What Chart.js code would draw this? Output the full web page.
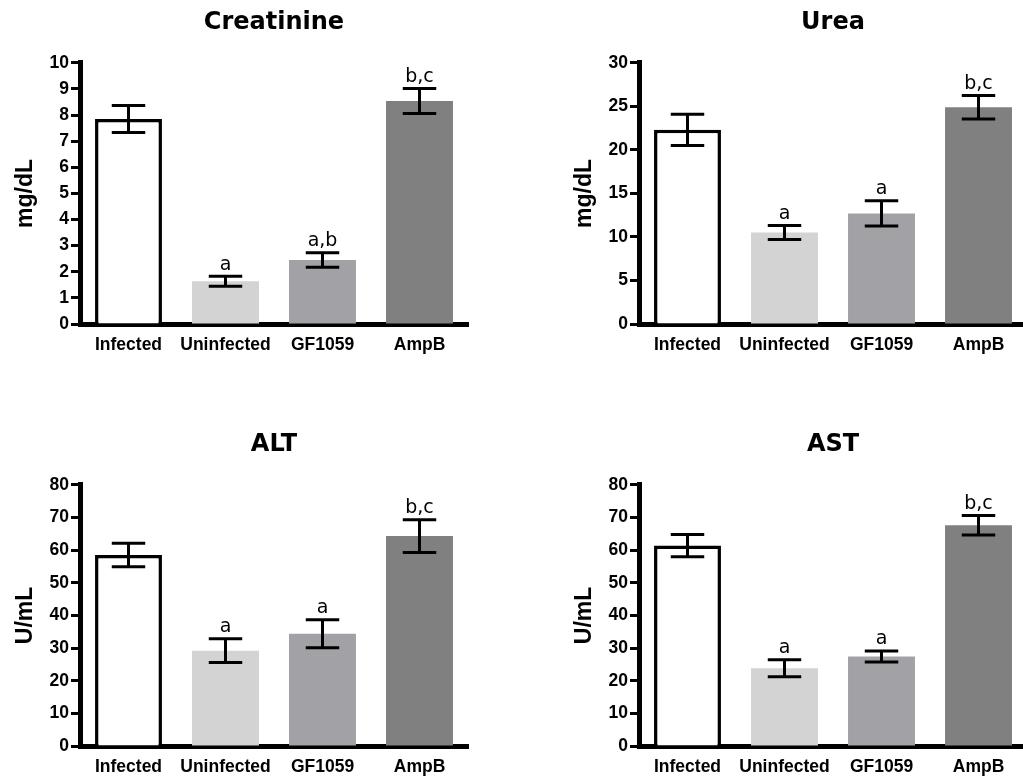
<!DOCTYPE html>
<html>
<head>
<meta charset="utf-8">
<title>Creatinine, Urea, ALT, AST</title>
<script src="https://cdn.jsdelivr.net/npm/chart.js@4.4.1/dist/chart.umd.min.js"></script>
<style>
  html, body { margin: 0; padding: 0; background: #fff; overflow: hidden; }
  body { width: 1023px; height: 778px; position: relative; }
  .panel { position: absolute; width: 470px; height: 360px; }
  #p1 { left: 0; top: 0; }
  #p2 { left: 559px; top: 0; }
  #p3 { left: 0; top: 422px; }
  #p4 { left: 559px; top: 422px; }
</style>
</head>
<body>
<div class="panel" id="p1"><canvas id="creatinine" width="470" height="360"></canvas></div>
<div class="panel" id="p2"><canvas id="urea" width="470" height="360"></canvas></div>
<div class="panel" id="p3"><canvas id="alt" width="470" height="360"></canvas></div>
<div class="panel" id="p4"><canvas id="ast" width="470" height="360"></canvas></div>
<script>
// groups on the x axis
var groups = ['Infected', 'Uninfected', 'GF1059', 'AmpB'];

// means and errors
var creatinineMean = [7.85, 1.64, 2.45, 8.54];
var creatinineErr = [0.52, 0.19, 0.28, 0.48];
var creatinineLetters = ['', 'a', 'a,b', 'b,c'];

var ureaMean = [22.3, 10.5, 12.7, 24.9];
var ureaErr = [1.8, 0.8, 1.45, 1.35];
var ureaLetters = ['', 'a', 'a', 'b,c'];

var altMean = [58.5, 29.2, 34.4, 64.3];
var altErr = [3.6, 3.65, 4.3, 5.0];
var altLetters = ['', 'a', 'a', 'b,c'];

var astMean = [61.4, 23.8, 27.4, 67.6];
var astErr = [3.4, 2.6, 1.7, 3.0];
var astLetters = ['', 'a', 'a', 'b,c'];

// y axis ranges: min, max, step
var creatinineTicks = [0, 10, 1];
var ureaTicks = [0, 30, 5];
var enzymeTicks = [0, 80, 10];

var barColors = ['#ffffff', '#d3d3d3', '#a2a2a6', '#808080'];

Chart.defaults.font.family = '"Liberation Sans", Arial, sans-serif';
Chart.defaults.color = '#000';

// error bars + significance letters
var errorBars = {
    id: 'errorBars',
    afterDatasetsDraw: function(chart, args, opts) {
        var ctx = chart.ctx;
        var y = chart.scales.y;
        var meta = chart.getDatasetMeta(0);
        var values = chart.data.datasets[0].data;
        ctx.save();
        ctx.strokeStyle = '#000';
        ctx.fillStyle = '#000';
        ctx.lineWidth = 3;
        ctx.font = '19px "DejaVu Sans"';
        ctx.textAlign = 'center';
        ctx.textBaseline = 'bottom';
        meta.data.forEach(function(bar, i) {
            var top = y.getPixelForValue(values[i] + opts.errors[i]);
            var bot = y.getPixelForValue(values[i] - opts.errors[i]);
            var half = bar.width / 4;
            ctx.beginPath();
            ctx.moveTo(bar.x, top);
            ctx.lineTo(bar.x, bot);
            ctx.moveTo(bar.x - half, top);
            ctx.lineTo(bar.x + half, top);
            ctx.moveTo(bar.x - half, bot);
            ctx.lineTo(bar.x + half, bot);
            ctx.stroke();
            if (opts.letters[i]) {
                ctx.fillText(opts.letters[i], bar.x, top - 2);
            }
        });
        ctx.restore();
    }
};

function makeChart(id, title, unit, means, errors, letters, range) {
    var ctx = document.getElementById(id);
    return new Chart(ctx, {
        type: 'bar',
        data: {
            labels: groups,
            datasets: [{
                data: means,
                backgroundColor: barColors,
                borderColor: ['#000', 'rgba(0,0,0,0)', 'rgba(0,0,0,0)', 'rgba(0,0,0,0)'],
                borderWidth: [3.5, 0, 0, 0],
                borderSkipped: 'start',
                barPercentage: 0.69,
                categoryPercentage: 1
            }]
        },
        options: {
            responsive: false,
            animation: false,
            layout: {
                padding: { left: 0, right: 2, top: 0, bottom: 0 }
            },
            plugins: {
                legend: { display: false },
                tooltip: { enabled: false },
                title: {
                    display: true,
                    text: title,
                    fullSize: false,
                    font: { family: '"DejaVu Sans"', size: 24, weight: 'bold', lineHeight: 1.2 },
                    padding: { top: 8, bottom: 26 },
                    color: '#000'
                },
                errorBars: {
                    errors: errors,
                    letters: letters
                }
            },
            scales: {
                x: {
                    grid: { display: false, drawTicks: false },
                    border: { display: true, color: '#000', width: 5 },
                    ticks: {
                        color: '#000',
                        padding: 11,
                        font: { size: 17.5, weight: 'bold' }
                    },
                    afterFit: function(scale) {
                        scale.height = 36;
                    }
                },
                y: {
                    min: range[0],
                    max: range[1],
                    ticks: {
                        stepSize: range[2],
                        color: '#000',
                        padding: 2,
                        font: { size: 17.5, weight: 'bold' }
                    },
                    grid: {
                        drawOnChartArea: false,
                        drawTicks: true,
                        tickLength: 9,
                        tickWidth: 3,
                        tickColor: '#000'
                    },
                    border: { display: true, color: '#000', width: 5 },
                    title: {
                        display: true,
                        text: unit,
                        color: '#000',
                        padding: { top: 12, bottom: 0 },
                        font: { size: 23, weight: 'bold', lineHeight: 1.2 }
                    },
                    afterFit: function(scale) {
                        scale.width = 80;
                    }
                }
            }
        },
        plugins: [errorBars]
    });
}

makeChart('creatinine', 'Creatinine', 'mg/dL', creatinineMean, creatinineErr, creatinineLetters, creatinineTicks);
makeChart('urea', 'Urea', 'mg/dL', ureaMean, ureaErr, ureaLetters, ureaTicks);
makeChart('alt', 'ALT', 'U/mL', altMean, altErr, altLetters, enzymeTicks);
makeChart('ast', 'AST', 'U/mL', astMean, astErr, astLetters, enzymeTicks);
</script>
</body>
</html>
